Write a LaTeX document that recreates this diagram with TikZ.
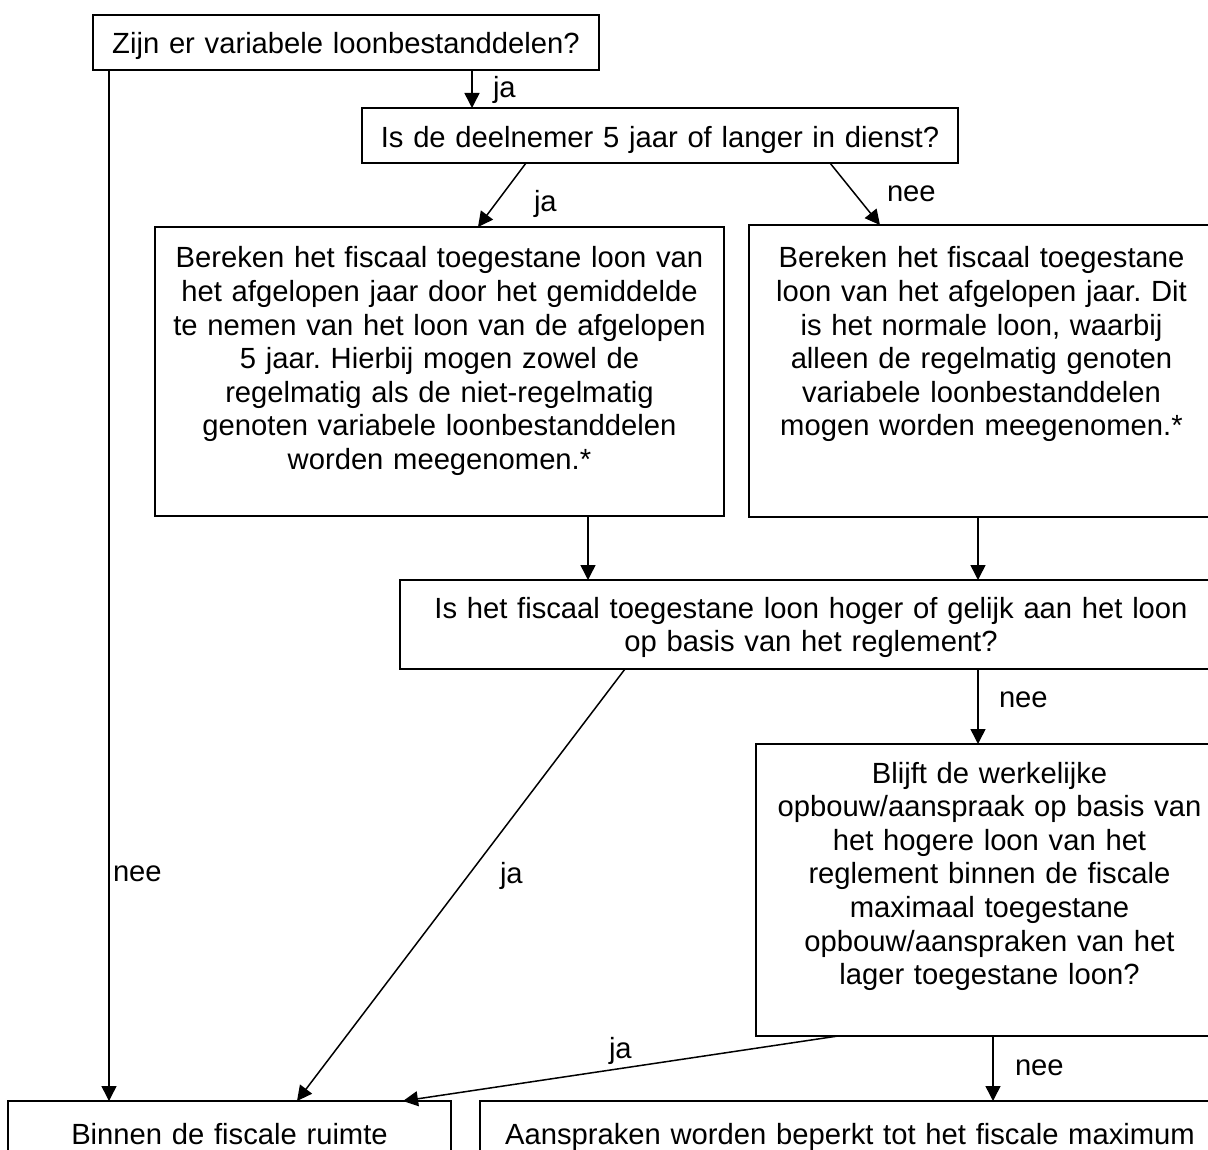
\documentclass[tikz,border=0pt]{standalone}
\usepackage{fontspec}
\setmainfont{Liberation Sans}
\usetikzlibrary{arrows.meta,calc}
\frenchspacing
\begin{document}
\begin{tikzpicture}[x=1pt,y=-1pt,
  box/.style={draw, line width=1.5pt, inner sep=0pt, outer sep=0pt},
  txt/.style={inner sep=0pt, outer sep=0pt, align=center, anchor=base,
              font=\fontsize{29.2}{33.6}\selectfont},
  lbl/.style={inner sep=0pt, outer sep=0pt, anchor=base west,
              font=\fontsize{29.2}{33.6}\selectfont},
  arr/.style={line width=1.5pt, -{Triangle[length=15pt,width=15pt]}}]
\clip (0,0) rectangle (1208,1150);
\fill[white] (0,0) rectangle (1208,1150);

% boxes
\node[box, minimum width=506pt, minimum height=55pt] (b1) at (346,42.5) {};
\node[box, minimum width=596pt, minimum height=55pt] (b2) at (660,135.5) {};
\node[box, minimum width=569pt, minimum height=289pt] (b3) at (439.5,371.5) {};
\node[box, minimum width=465pt, minimum height=292pt] (b4) at (981.5,371) {};
\node[box, minimum width=822pt, minimum height=89pt] (b5) at (811,624.5) {};
\node[box, minimum width=467pt, minimum height=292pt] (b6) at (989.5,890) {};
\node[box, minimum width=443pt, minimum height=99pt] (b7) at (229.5,1150.5) {};
\node[box, minimum width=740pt, minimum height=99pt] (b8) at (850,1150.5) {};

% texts
\node[txt, text width=490pt] (t1) at (346,54) {Zijn er variabele loonbestanddelen?};
\node[txt, text width=580pt] (t2) at (660,148) {Is de deelnemer 5 jaar of langer in dienst?};
\node[txt, text width=560pt] (t3) at (439.5,268) {Bereken het fiscaal toegestane loon van\\het afgelopen jaar door het gemiddelde\\te nemen van het loon van de afgelopen\\5 jaar. Hierbij mogen zowel de\\regelmatig als de niet-regelmatig\\genoten variabele loonbestanddelen\\worden meegenomen.*};
\node[txt, text width=455pt] (t4) at (981.5,268) {Bereken het fiscaal toegestane\\loon van het afgelopen jaar. Dit\\is het normale loon, waarbij\\alleen de regelmatig genoten\\variabele loonbestanddelen\\mogen worden meegenomen.*};
\node[txt, text width=810pt] (t5) at (811,618) {Is het fiscaal toegestane loon hoger of gelijk aan het loon\\op basis van het reglement?};
\node[txt, text width=460pt] (t6) at (989.5,783) {Blijft de werkelijke\\opbouw/aanspraak op basis van\\het hogere loon van het\\reglement binnen de fiscale\\maximaal toegestane\\opbouw/aanspraken van het\\lager toegestane loon?};
\node[txt, text width=430pt] (t7) at (229.5,1144) {Binnen de fiscale ruimte};
\node[txt, text width=730pt] (t8) at (850,1144) {Aanspraken worden beperkt tot het fiscale maximum};

% connectors
\draw[arr] ($(b1.south west)+(379,0)$) -- ($(b2.north west)+(110,0)$);
\draw[arr] ($(b2.south west)+(164,0)$) -- ($(b3.north west)+(323,0)$);
\draw[arr] ($(b2.south west)+(468,0)$) -- ($(b4.north west)+(131,0)$);
\draw[arr] ($(b3.south west)+(433,0)$) -- ($(b5.north west)+(188,0)$);
\draw[arr] ($(b4.south west)+(229,0)$) -- ($(b5.north west)+(578,0)$);
\draw[arr] ($(b5.south west)+(225,0)$) -- ($(b7.north west)+(289,0)$);
\draw[arr] ($(b5.south west)+(578,0)$) -- ($(b6.north west)+(222,0)$);
\draw[arr] ($(b1.south west)+(16,0)$) -- ($(b7.north west)+(101,0)$);
\draw[arr] ($(b6.south west)+(82,0)$) -- ($(b7.north west)+(395,0)$);
\draw[arr] ($(b6.south west)+(237,0)$) -- ($(b8.north west)+(513,0)$);

% labels
\node[lbl] (l1) at (493,98) {ja};
\node[lbl] (l2) at (534,212) {ja};
\node[lbl] (l3) at (887,202) {nee};
\node[lbl] (l4) at (999,707) {nee};
\node[lbl] (l5) at (1015,1075) {nee};
\node[lbl] (l6) at (500,883) {ja};
\node[lbl] (l7) at (113,881) {nee};
\node[lbl] (l8) at (609,1058) {ja};
\end{tikzpicture}
\end{document}
